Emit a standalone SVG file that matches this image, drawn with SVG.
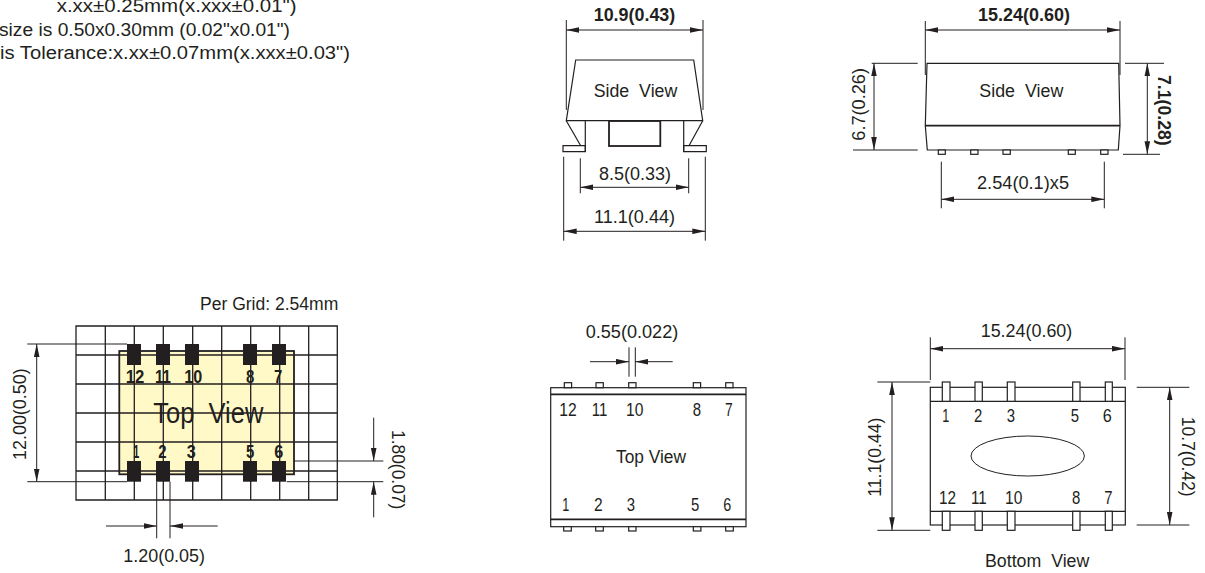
<svg xmlns="http://www.w3.org/2000/svg" width="1205" height="573" viewBox="0 0 1205 573">
<style>
text{font-family:"Liberation Sans",Arial,sans-serif;font-size:18px;fill:#231f20;white-space:pre}
.b{font-weight:bold}
.l{fill:none;stroke:#231f20;stroke-width:1}
.o{fill:none;stroke:#231f20;stroke-width:1.2}
.t{fill:none;stroke:#231f20;stroke-width:1.8}
.p{fill:#fff;stroke:#231f20;stroke-width:1.2}
.d{fill:none;stroke:#231f20;stroke-width:1;marker-start:url(#a);marker-end:url(#a)}
.s{fill:none;stroke:#231f20;stroke-width:1;marker-end:url(#a)}
.g{fill:none;stroke:#231f20;stroke-width:1.3}
</style>
<defs>
<marker id="a" markerUnits="userSpaceOnUse" markerWidth="14" markerHeight="6" refX="13" refY="3" orient="auto-start-reverse"><path d="M0 0.2L13 3L0 5.8Z" fill="#231f20"/></marker>
</defs>
<rect width="1205" height="573" fill="#fff"/>
<g id="notes">
<text x="56.7" y="12" textLength="240" lengthAdjust="spacingAndGlyphs">x.xx±0.25mm(x.xxx±0.01")</text>
<text x="-1" y="36" textLength="291" lengthAdjust="spacingAndGlyphs">size is 0.50x0.30mm (0.02"x0.01")</text>
<text x="0" y="59" textLength="350" lengthAdjust="spacingAndGlyphs">is Tolerance:x.xx±0.07mm(x.xxx±0.03")</text>
</g>
<g id="connectors">
<path class="d" d="M566.3 30H703"/>
<path class="l" d="M566.3 20V110M703 20V110M580.3 158.3V193.3M688.7 158.3V193.3M563.7 156.7V240.7M705.3 156.7V240.7"/>
<path class="d" d="M580.3 187.3H688.7"/>
<path class="d" d="M563.7 231.3H705.3"/>
<path class="l" d="M925.3 21V75M1120 21V75M871.7 63.3H917.7M853 150H917.7M1125 63.3H1164M1123 154.3H1160M941.3 161.7V208.3M1104.3 161.7V208.3"/>
<path class="d" d="M925.3 30H1120"/>
<path class="d" d="M874 63.3V150"/>
<path class="d" d="M1147.3 63.3V154.3"/>
<path class="d" d="M941.3 199.3H1104.3"/>
<path class="l" d="M27.3 344H127M27.3 481.7H127M286.7 461H383.3M286.7 481.7H383.3M156.7 481.7V538.3M170 481.7V538.3"/>
<path class="d" d="M36.7 344V481.7"/>
<path class="s" d="M373.7 417.7V461"/>
<path class="s" d="M373.7 517.3V481.7"/>
<path class="s" d="M106 526H156.7"/>
<path class="s" d="M217.7 526H170"/>
<path class="l" d="M629 347.3V376.7M635.3 347.3V376.7"/>
<path class="s" d="M590 361.7H629"/>
<path class="s" d="M672.7 361.7H635.3"/>
<path class="l" d="M930.3 337.3V380M1125 337.3V380M877.3 382H930.3M877.3 530.3H930.3M1136.7 387.3H1189.3M1136.7 525H1189.3"/>
<path class="d" d="M930.3 348.7H1125"/>
<path class="d" d="M892 382V530.3"/>
<path class="d" d="M1169.7 387.3V525"/>
</g>
<g id="side-view-left">
<path class="o" d="M566.3 120.7L575.7 60H693.7L702.7 120.7Z"/>
<path class="o" d="M566.3 120.7L580.7 145.7M702.7 120.7L689 145.7M585.3 120.7V151.7M683.7 120.7V151.7"/>
<path class="o" d="M563 145.7H585.3V151.7H563ZM683.7 145.7H706.3V151.7H683.7Z"/>
<rect class="t" x="609" y="121" width="51.3" height="25"/>
<text x="593.7" y="21" class="b" textLength="81.6" lengthAdjust="spacingAndGlyphs">10.9(0.43)</text>
<text x="593.7" y="96.7" textLength="83.6" lengthAdjust="spacingAndGlyphs">Side  View</text>
<text x="599" y="180" textLength="72" lengthAdjust="spacingAndGlyphs">8.5(0.33)</text>
<text x="594" y="223" textLength="81" lengthAdjust="spacingAndGlyphs">11.1(0.44)</text>
</g>
<g id="side-view-right">
<path class="o" d="M927 63.3H1118.7L1120 125.7L1118.3 150H927.3L925.3 125.7Z"/>
<path class="t" d="M925.3 125.7H1120"/>
<g class="p"><rect x="938.3" y="150" width="7" height="4.3"/><rect x="970.7" y="150" width="7.3" height="4.3"/><rect x="1003" y="150" width="7.3" height="4.3"/><rect x="1068.3" y="150" width="7" height="4.3"/><rect x="1100.7" y="150" width="7.3" height="4.3"/></g>
<text x="978" y="21" class="b" textLength="92" lengthAdjust="spacingAndGlyphs">15.24(0.60)</text>
<text x="979.3" y="96.7" textLength="84" lengthAdjust="spacingAndGlyphs">Side  View</text>
<text transform="translate(865 140.7) rotate(-90)" textLength="72.7" lengthAdjust="spacingAndGlyphs">6.7(0.26)</text>
<text transform="translate(1158.3 75) rotate(90)" class="b" textLength="70.7" lengthAdjust="spacingAndGlyphs">7.1(0.28)</text>
<text x="977" y="189.3" textLength="92" lengthAdjust="spacingAndGlyphs">2.54(0.1)x5</text>
</g>
<g id="grid-view">
<rect x="119.3" y="351" width="174.7" height="123.3" fill="#fff9c8" stroke="#231f20" stroke-width="1.8"/>
<path class="g" d="M76 326H337.3V500H76ZM76 355H337.3M76 384H337.3M76 413H337.3M76 442H337.3M76 471H337.3M105.3 326V500M134.3 326V500M163.3 326V500M192.7 326V500M221.7 326V500M250.7 326V500M279.7 326V500M308.7 326V500"/>
<g fill="#231f20"><rect x="127" y="344" width="14" height="21"/><rect x="156" y="344" width="14" height="21"/><rect x="185" y="344" width="14" height="21"/><rect x="243" y="344" width="14" height="21"/><rect x="272" y="344" width="14" height="21"/><rect x="127" y="461" width="14" height="20.7"/><rect x="156" y="461" width="14" height="20.7"/><rect x="185" y="461" width="14" height="20.7"/><rect x="243" y="461" width="14" height="20.7"/><rect x="272" y="461" width="14" height="20.7"/></g>
<g class="b">
<text class="b" x="125.7" y="383.3" textLength="18.7" lengthAdjust="spacingAndGlyphs">12</text><text class="b" x="155" y="383.3" textLength="16" lengthAdjust="spacingAndGlyphs">11</text><text class="b" x="184.3" y="383.3" textLength="18" lengthAdjust="spacingAndGlyphs">10</text><text class="b" x="246" y="383.3" textLength="8.3" lengthAdjust="spacingAndGlyphs">8</text><text class="b" x="274" y="383.3" textLength="8.3" lengthAdjust="spacingAndGlyphs">7</text>
<text class="b" x="133.3" y="457.7" textLength="6" lengthAdjust="spacingAndGlyphs">1</text><text class="b" x="158.3" y="457.7" textLength="8.3" lengthAdjust="spacingAndGlyphs">2</text><text class="b" x="186.7" y="457.7" textLength="9" lengthAdjust="spacingAndGlyphs">3</text><text class="b" x="246" y="457.7" textLength="8.3" lengthAdjust="spacingAndGlyphs">5</text><text class="b" x="274.3" y="457.7" textLength="9" lengthAdjust="spacingAndGlyphs">6</text>
</g>
<text x="153.3" y="423.3" style="font-size:29px" textLength="110" lengthAdjust="spacingAndGlyphs">Top  View</text>
<text x="200" y="310" textLength="138.3" lengthAdjust="spacingAndGlyphs">Per Grid: 2.54mm</text>
<text transform="translate(25.7 460) rotate(-90)" textLength="91.7" lengthAdjust="spacingAndGlyphs">12.00(0.50)</text>
<text transform="translate(392 430) rotate(90)" textLength="79.3" lengthAdjust="spacingAndGlyphs">1.80(0.07)</text>
<text x="123.3" y="561.7" textLength="81.7" lengthAdjust="spacingAndGlyphs">1.20(0.05)</text>
</g>
<g id="top-view">
<rect class="o" x="550.7" y="387.7" width="195.3" height="139"/>
<path class="t" d="M550.7 394.3H746M550.7 519.3H746"/>
<g class="p"><rect x="564.3" y="382.7" width="7.3" height="5"/><rect x="596" y="382.7" width="7.3" height="5"/><rect x="628.7" y="382.7" width="7.3" height="5"/><rect x="693.3" y="382.7" width="7.3" height="5"/><rect x="725.7" y="382.7" width="7.3" height="5"/><rect x="563.7" y="526.7" width="7.6" height="4.3"/><rect x="595.7" y="526.7" width="7.6" height="4.3"/><rect x="628.7" y="526.7" width="7.3" height="4.3"/><rect x="693.3" y="526.7" width="7.6" height="4.3"/><rect x="725.7" y="526.7" width="7.6" height="4.3"/></g>
<text x="585.7" y="338.3" textLength="92.6" lengthAdjust="spacingAndGlyphs">0.55(0.022)</text>
<text x="616" y="462.7" textLength="70" lengthAdjust="spacingAndGlyphs">Top View</text>
<text x="559.3" y="416" textLength="17.4" lengthAdjust="spacingAndGlyphs">12</text><text x="591.7" y="416" textLength="15.6" lengthAdjust="spacingAndGlyphs">11</text><text x="626" y="416" textLength="17.4" lengthAdjust="spacingAndGlyphs">10</text><text x="692.7" y="416" textLength="8.3" lengthAdjust="spacingAndGlyphs">8</text><text x="725" y="416" textLength="7.7" lengthAdjust="spacingAndGlyphs">7</text>
<text x="562.3" y="511" textLength="7" lengthAdjust="spacingAndGlyphs">1</text><text x="594" y="511" textLength="8.7" lengthAdjust="spacingAndGlyphs">2</text><text x="626.7" y="511" textLength="8.3" lengthAdjust="spacingAndGlyphs">3</text><text x="691" y="511" textLength="8.3" lengthAdjust="spacingAndGlyphs">5</text><text x="723.3" y="511" textLength="8" lengthAdjust="spacingAndGlyphs">6</text>
</g>
<g id="bottom-view">
<rect class="o" x="930.3" y="387.3" width="195" height="137.7"/>
<path class="o" d="M930.3 401.3H1125.3M930.3 511.3H1125.3"/>
<g class="p"><rect x="942.3" y="382" width="7.7" height="19.3"/><rect x="975" y="382" width="7.3" height="19.3"/><rect x="1007.3" y="382" width="7.7" height="19.3"/><rect x="1072.7" y="382" width="7.3" height="19.3"/><rect x="1105.3" y="382" width="7" height="19.3"/><rect x="942.3" y="511.3" width="7.7" height="19"/><rect x="975" y="511.3" width="7.3" height="19"/><rect x="1007.3" y="511.3" width="7.7" height="19"/><rect x="1072.7" y="511.3" width="7.3" height="19"/><rect x="1105.3" y="511.3" width="7" height="19"/></g>
<ellipse class="l" cx="1027.7" cy="456" rx="56.7" ry="20"/>
<text x="980.7" y="337.3" textLength="91.6" lengthAdjust="spacingAndGlyphs">15.24(0.60)</text>
<text transform="translate(880.7 496.7) rotate(-90)" textLength="79" lengthAdjust="spacingAndGlyphs">11.1(0.44)</text>
<text transform="translate(1181.7 416.7) rotate(90)" textLength="80" lengthAdjust="spacingAndGlyphs">10.7(0.42)</text>
<text x="985" y="567.3" textLength="104.3" lengthAdjust="spacingAndGlyphs">Bottom  View</text>
<text x="942.3" y="421.7" textLength="7" lengthAdjust="spacingAndGlyphs">1</text><text x="974" y="421.7" textLength="8.3" lengthAdjust="spacingAndGlyphs">2</text><text x="1006.7" y="421.7" textLength="8.3" lengthAdjust="spacingAndGlyphs">3</text><text x="1070.7" y="421.7" textLength="8.3" lengthAdjust="spacingAndGlyphs">5</text><text x="1102.7" y="421.7" textLength="9" lengthAdjust="spacingAndGlyphs">6</text>
<text x="939" y="504" textLength="17" lengthAdjust="spacingAndGlyphs">12</text><text x="971" y="504" textLength="15.7" lengthAdjust="spacingAndGlyphs">11</text><text x="1005" y="504" textLength="17.3" lengthAdjust="spacingAndGlyphs">10</text><text x="1072" y="504" textLength="8.3" lengthAdjust="spacingAndGlyphs">8</text><text x="1104.3" y="504" textLength="8.3" lengthAdjust="spacingAndGlyphs">7</text>
</g>
</svg>
